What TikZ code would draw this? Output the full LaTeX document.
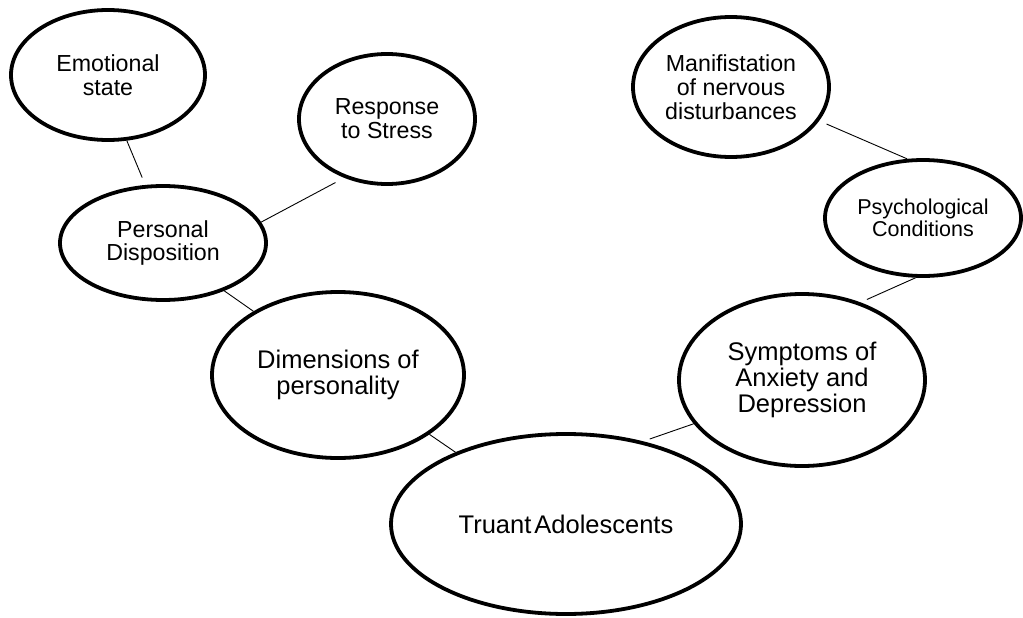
\documentclass[tikz,border=0pt]{standalone}
\usepackage{fontspec}
\setmainfont{Liberation Sans}
\usetikzlibrary{shapes.geometric}

\begin{document}
\begin{tikzpicture}[
     x=1pt, y=-1pt,
     % define styles
     bubble/.style={
         ellipse,
         draw,
         line width=3.8pt,
         inner sep=0pt,
         align=center,
         font=\fontsize{23.2}{23.8}\selectfont
     },
     big/.style={
         font=\fontsize{25.5}{26}\selectfont
     },
     small/.style={
         font=\fontsize{21.5}{21.5}\selectfont
     },
     link/.style={
         line width=0.9pt
     }
]
\useasboundingbox (0,0) rectangle (1023,618);

% bubbles on the left branch
\node[bubble, minimum width=194pt, minimum height=130pt] (emo)    at (108,75)  {Emotional\\state};
\node[bubble, minimum width=176pt, minimum height=130pt] (resp)   at (387,119) {Response\\to Stress};
\node[bubble, minimum width=206pt, minimum height=114pt] (pers)   at (163,243) {Personal\\Disposition};
\node[bubble, big, minimum width=252pt, minimum height=166pt] (dims) at (338,375) {Dimensions of\\personality};

% centre bubble
\node[bubble, big, minimum width=350pt, minimum height=180pt] (truant) at (566,524) {Truant\hspace{0.12em}Adolescents};

% bubbles on the right branch
\node[bubble, big, minimum width=246pt, minimum height=172pt] (sympt) at (802,380) {Symptoms of\\Anxiety and\\Depression};
\node[bubble, small, minimum width=196pt, minimum height=116pt] (psych) at (923,218) {Psychological\\Conditions};
\node[bubble, minimum width=196pt, minimum height=140pt] (manif) at (731,87) {Manifistation\\of nervous\\disturbances};

% connectors
\draw[link, shorten >=8pt]  (emo.-74)    -- (pers.107);
\draw[link, shorten <=10pt] (resp.234)   -- (pers.12);
\draw[link]                 (pers.-38)   -- (dims.143);
\draw[link]                 (dims.-33)   -- (truant.147);
\draw[link, shorten <=7pt, shorten >=-3pt] (truant.47) -- (sympt.202);
\draw[link, shorten <=7pt]  (sympt.53)   -- (psych.-97);
\draw[link, shorten >=8pt]  (psych.105)  -- (manif.-21);
\end{tikzpicture}
\end{document}
